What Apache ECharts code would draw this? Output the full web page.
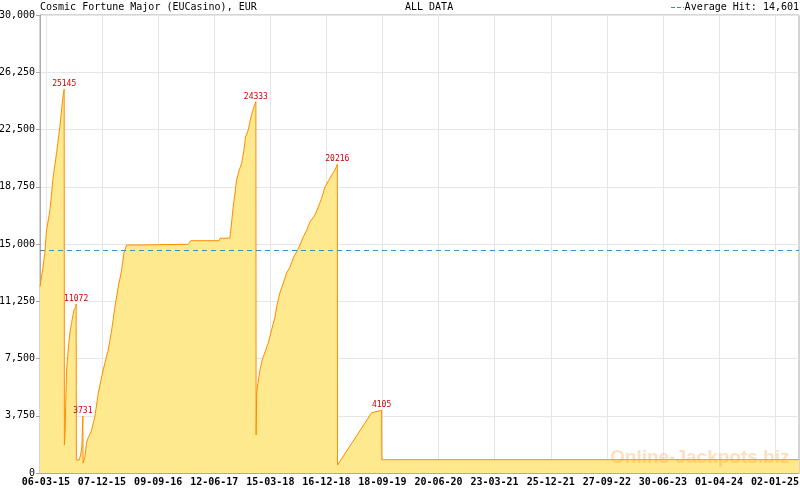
<!DOCTYPE html>
<html><head><meta charset="utf-8">
<script src="https://cdn.jsdelivr.net/npm/echarts@6/dist/echarts.min.js"></script>
<style>html,body{margin:0;padding:0;background:#fff}#c{width:800px;height:490px}</style>
</head><body><div id="c"></div>
<script>
const chartTitle = 'Cosmic Fortune Major (EUCasino), EUR';
const rangeText = 'ALL DATA';
const averageHit = 14601;
const axisStart = '2015-02-05';
const axisEnd = '2025-04-30';
const tickDates = ['2015-03-06','2015-12-07','2016-09-09','2017-06-12','2018-03-15','2018-12-16','2019-09-18','2020-06-20','2021-03-23','2021-12-25','2022-09-27','2023-06-30','2024-04-01','2025-01-02'];
const yTicks = [0,3750,7500,11250,15000,18750,22500,26250,30000];
const dates = [
'2015-02-05','2015-02-18','2015-03-01','2015-03-09','2015-03-26','2015-04-11','2015-04-28','2015-05-14','2015-05-27','2015-06-04',
'2015-06-05','2015-06-09','2015-06-12','2015-06-16','2015-06-24','2015-07-02','2015-07-10','2015-07-22','2015-08-01','2015-08-02',
'2015-08-03','2015-08-17','2015-08-24','2015-08-30','2015-09-04',
'2015-09-05','2015-09-14','2015-09-22','2015-09-30','2015-10-17','2015-11-02','2015-11-19','2015-12-13','2016-01-07','2016-01-24',
'2016-02-09','2016-02-25','2016-03-13','2016-03-24','2016-04-06','2016-06-11','2016-06-12','2017-02-04','2017-02-17','2017-07-06',
'2017-07-10','2017-08-28','2017-09-05','2017-09-13','2017-09-22','2017-09-30','2017-10-13','2017-10-25','2017-11-05','2017-11-13',
'2017-11-26','2017-12-10','2017-12-24','2018-01-03',
'2018-01-04','2018-01-07','2018-01-14','2018-01-23','2018-02-03','2018-02-15','2018-03-05','2018-03-21','2018-04-07','2018-04-15',
'2018-05-01','2018-05-18','2018-06-03','2018-06-20','2018-07-06','2018-07-22','2018-08-08','2018-08-24','2018-09-10','2018-09-26',
'2018-10-21','2018-11-06','2018-11-23','2018-12-09','2019-01-03','2019-01-27','2019-02-08',
'2019-02-09','2019-07-27','2019-09-14','2019-09-15','2025-04-30'
];
const values = [
12200,13300,14400,15900,17200,19400,21000,22700,24400,25145,
1834,2800,4780,6750,8060,9170,9800,10670,10870,11072,
850,850,1180,1700,3731,
650,1050,1960,2300,2800,3670,5240,6750,8060,9370,
10870,12180,13300,14400,14934,14934,14980,14980,15216,15216,
15370,15390,16375,17420,18340,19190,19850,20300,21160,22000,
22470,23320,23970,24333,
2490,5300,5960,6750,7400,7860,8515,9370,10220,10870,
11790,12445,13100,13490,14080,14475,14934,15460,15900,16440,
16900,17420,18010,18730,19320,19850,20216,
524,3950,4105,870,870
];
const peakDates = ['2015-06-04','2015-08-02','2015-09-04','2018-01-03','2019-02-08','2019-09-14'];

const ts = s => { const p = s.split('-').map(Number); return Date.UTC(p[0], p[1]-1, p[2]); };
const seriesData = dates.map((d,i) => [ts(d), values[i]]);
const majorTicks = tickDates.map(ts);
const xMin = ts(axisStart), xMax = ts(axisEnd);
const step = (majorTicks[1]-majorTicks[0]) / 7;
const minorTicks = [];
for (let v = majorTicks[0]; v <= xMax; v += step) minorTicks.push(v);
for (let v = majorTicks[0] - step; v >= xMin; v -= step) minorTicks.push(v);
const pad = n => (n < 10 ? '0' : '') + n;
const fmtDate = v => { const d = new Date(v); return pad(d.getUTCDate()) + '-' + pad(d.getUTCMonth()+1) + '-' + pad(d.getUTCFullYear() % 100); };
const fmtNum = v => String(Math.round(v)).replace(/\B(?=(\d{3})+(?!\d))/g, ',');
const peaks = peakDates.map(d => { const i = dates.indexOf(d); return { coord: [ts(d), values[i]], value: values[i] }; });

const mono = '"DejaVu Sans Mono", monospace';
const chart = echarts.init(document.getElementById('c'), null, { renderer: 'canvas' });
chart.setOption({
  animation: false,
  backgroundColor: '#fff',
  grid: { left: 40, right: 1, top: 15, bottom: 17, show: true, borderColor: '#aaa', borderWidth: 1, backgroundColor: 'transparent', containLabel: false, outerBoundsMode: 'none' },
  xAxis: [{
    type: 'value', min: xMin, max: xMax,
    axisLine: { show: true, lineStyle: { color: '#aaa' } },
    axisTick: { show: true, inside: true, length: 5, customValues: majorTicks, lineStyle: { color: '#aaa' } },
    axisLabel: { customValues: majorTicks, formatter: fmtDate, fontFamily: mono, fontSize: 10, fontWeight: 'bold', color: '#000', margin: 4, hideOverlap: false, showMinLabel: true, showMaxLabel: true },
    splitLine: { show: true, lineStyle: { color: '#e6e6e6' } }
  }, {
    type: 'value', min: xMin, max: xMax, position: 'bottom', gridIndex: 0,
    axisLine: { show: false },
    axisTick: { show: true, inside: true, length: 3, customValues: minorTicks, lineStyle: { color: '#aaa' } },
    axisLabel: { show: false },
    splitLine: { show: false }
  }],
  yAxis: {
    type: 'value', min: yTicks[0], max: yTicks[yTicks.length-1], interval: yTicks[1]-yTicks[0],
    axisLine: { show: true, lineStyle: { color: '#aaa' } },
    axisTick: { show: true, length: 4, lineStyle: { color: '#aaa' } },
    axisLabel: { formatter: fmtNum, fontFamily: mono, fontSize: 10, color: '#000', margin: 5 },
    splitLine: { show: true, lineStyle: { color: '#e6e6e6' } }
  },
  graphic: [
    { type: 'text', left: 40, top: 2, style: { text: chartTitle, font: '10px ' + mono, fill: '#000' } },
    { type: 'text', left: 405, top: 2, style: { text: rangeText, font: '10px ' + mono, fill: '#000' } },
    { type: 'line', shape: { x1: 671, y1: 7.5, x2: 684, y2: 7.5 }, style: { stroke: '#3a8cc4', lineWidth: 1, lineDash: [4, 2] } },
    { type: 'text', right: 1, top: 2, style: { text: 'Average Hit: ' + fmtNum(averageHit), font: '10px ' + mono, fill: '#000' } },
    { type: 'text', left: 610, top: 448, z: 100, style: { text: 'Online-Jackpots.biz', font: 'bold 19px "Liberation Sans", Arial, sans-serif', fill: 'rgba(255,150,40,0.3)' } }
  ],
  series: [{
    type: 'line', xAxisIndex: 0, data: seriesData, showSymbol: false, symbol: 'none',
    lineStyle: { color: '#ff8c00', width: 1 },
    areaStyle: { color: '#ffe98f', opacity: 1 },
    markLine: { silent: true, symbol: 'none', label: { show: false },
      lineStyle: { color: '#3a8cc4', type: [5, 4], width: 1 },
      data: [{ yAxis: averageHit }] },
    markPoint: { symbol: 'circle', symbolSize: 0,
      label: { show: true, position: 'top', distance: 1, formatter: p => String(p.value), color: '#cc0000', fontFamily: mono, fontSize: 8 },
      data: peaks }
  }]
});
</script></body></html>
